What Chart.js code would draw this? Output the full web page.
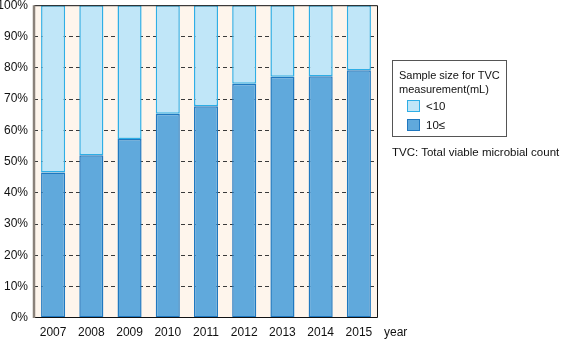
<!DOCTYPE html>
<html>
<head>
<meta charset="utf-8">
<script src="https://cdn.jsdelivr.net/npm/chart.js@4"></script>
<style>
  body { margin: 0; background: #fff; font-family: "Liberation Sans", Arial, sans-serif; }
  #wrap { position: relative; width: 567px; height: 340px; overflow: hidden; }
  #chart { position: absolute; left: 0; top: -8px; }
  #legend { position: absolute; left: 392px; top: 60px; width: 115px; height: 77px;
    border: 1px solid #555; box-sizing: border-box; font-size: 11px; color: #111; padding: 7px 0 0 6px; white-space: nowrap; }
  #legend .ttl { line-height: 14px; }
  #legend .item { display: flex; align-items: center; height: 19.5px; margin-left: 8px; font-size: 11.5px; }
  #legend .sw { width: 13px; height: 12px; box-sizing: border-box; margin-right: 6px; }
  .note { position: absolute; font-size: 11.5px; color: #111; white-space: nowrap; }
</style>
</head>
<body>
<div id="wrap">
  <canvas id="chart" width="567" height="348"></canvas>
  <div id="legend"></div>
  <div class="note" style="left:392px; top:146px;">TVC: Total viable microbial count</div>
  <div class="note" style="left:384px; top:325px; font-size:12px;">year</div>
</div>
<script>
const years = ["2007", "2008", "2009", "2010", "2011", "2012", "2013", "2014", "2015"];
const large = [46.5, 52.0, 57.2, 65.3, 67.7, 74.9, 77.1, 77.3, 79.2]; // 10≤ mL
const small = large.map(v => +(100 - v).toFixed(1)); // <10 mL, remainder to 100%
const yTicks = [0, 10, 20, 30, 40, 50, 60, 70, 80, 90, 100];
const legendTitle = ["Sample size for TVC", "measurement(mL)"];

const plotBg = {
  id: "plotBg",
  beforeDraw(chart) {
    const { ctx, chartArea: a } = chart;
    ctx.save();
    ctx.fillStyle = "#fef5ec";
    ctx.fillRect(a.left, a.top, a.right - a.left, a.bottom - a.top);
    ctx.restore();
  },
  afterDatasetsDraw(chart) {
    const { ctx, chartArea: a } = chart;
    ctx.save();
    ctx.strokeStyle = "#111";
    ctx.lineWidth = 1;
    ctx.beginPath();
    ctx.moveTo(a.left, a.top + 0.5);
    ctx.lineTo(a.right - 0.5, a.top + 0.5);
    ctx.lineTo(a.right - 0.5, a.bottom - 0.5);
    ctx.lineTo(a.left, a.bottom - 0.5);
    ctx.stroke();
    ctx.strokeStyle = "#8a827a";
    ctx.lineWidth = 2.5;
    ctx.beginPath();
    ctx.moveTo(a.left, a.top);
    ctx.lineTo(a.left, a.bottom);
    ctx.stroke();
    ctx.restore();
  }
};

const datasets = [
  {
    label: "10≤",
    data: large,
    backgroundColor: "#60a9dc",
    borderColor: "#1f78c0",
    borderWidth: 1.5,
    borderSkipped: false
  },
  {
    label: "<10",
    data: small,
    backgroundColor: "#c0e6f8",
    borderColor: "#2eaee6",
    borderWidth: 1.5,
    borderSkipped: false
  }
];

new Chart(document.getElementById("chart").getContext("2d"), {
  type: "bar",
  data: { labels: years, datasets: datasets },
  plugins: [plotBg],
  options: {
    responsive: false,
    animation: false,
    layout: { padding: { top: 0, right: 189, left: 0, bottom: 0 } },
    datasets: { bar: { categoryPercentage: 0.63, barPercentage: 1 } },
    plugins: { legend: { display: false }, tooltip: { enabled: false } },
    scales: {
      x: {
        stacked: true,
        grid: { display: false, drawTicks: false },
        border: { display: false },
        afterFit: s => { s.height = 22; },
        ticks: { color: "#111", font: { size: 12, family: "Liberation Sans" }, padding: 7 }
      },
      y: {
        stacked: true,
        min: 0,
        max: 100,
        afterFit: s => { s.width = 34; },
        afterBuildTicks: s => { s.ticks = yTicks.map(v => ({ value: v })); },
        border: { display: false, dash: [4, 3] },
        grid: {
          drawTicks: false,
          color: c => (c.tick.value === 0 || c.tick.value === 100) ? "rgba(0,0,0,0)" : "#3a3a3a",
          lineWidth: 1
        },
        ticks: {
          color: "#111",
          font: { size: 12, family: "Liberation Sans" },
          padding: 6,
          callback: v => v + "%"
        }
      }
    }
  }
});

const legendEl = document.getElementById("legend");
legendEl.innerHTML = legendTitle.map(t => '<div class="ttl">' + t + '</div>').join("") +
  datasets.slice().reverse().map(d =>
    '<div class="item"><span class="sw" style="background:' + d.backgroundColor +
    ';border:1px solid ' + d.borderColor + '"></span>' + d.label + '</div>').join("");
</script>
</body>
</html>
